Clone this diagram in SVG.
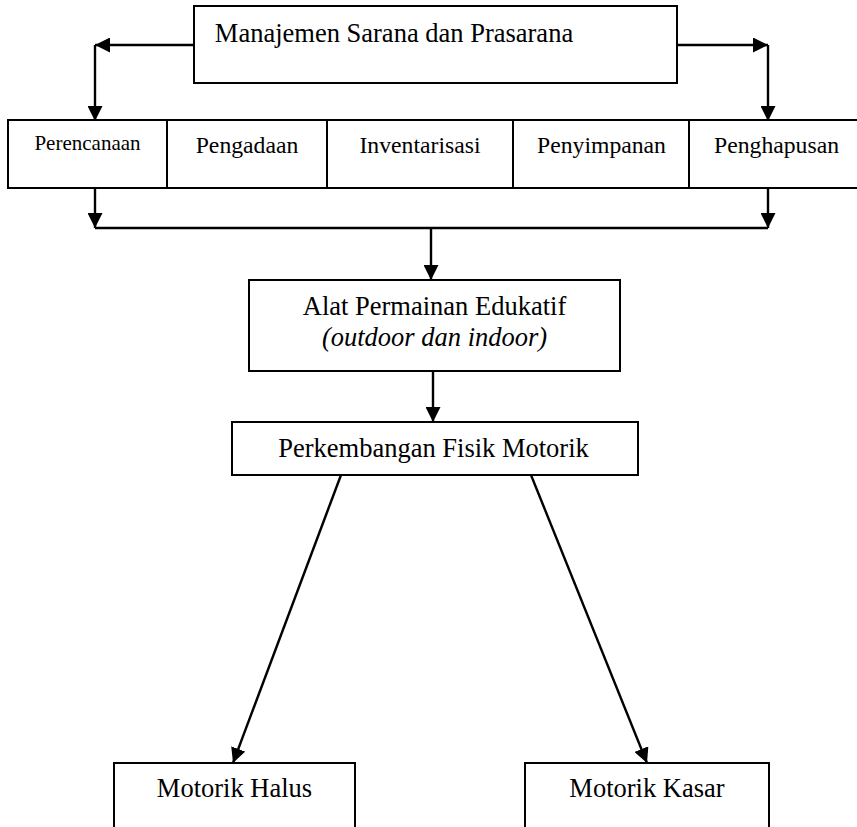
<svg xmlns="http://www.w3.org/2000/svg" width="857" height="827" viewBox="0 0 857 827">
<style>
.box{fill:#fff;stroke:#000;stroke-width:2}
.ln{fill:none;stroke:#000;stroke-width:2.4}
.arr{fill:none;stroke:#000;stroke-width:2.4;marker-end:url(#ah)}
text{font-family:"Liberation Serif","Times New Roman",serif;fill:#000;text-anchor:middle}
.t26{font-size:26.5px}
.t24{font-size:23.7px}
.t21{font-size:21px}
.it{font-style:italic}
</style>
<defs>
<marker id="ah" markerUnits="userSpaceOnUse" markerWidth="15" markerHeight="15" refX="15" refY="7.5" orient="auto">
<path d="M0,0 L15,7.5 L0,15 Z" fill="#000"/>
</marker>
</defs>
<rect width="857" height="827" fill="#fff"/>
<g id="connectors">
<line class="arr" x1="194" y1="45" x2="95" y2="45"/>
<line class="arr" x1="95" y1="45" x2="95" y2="121"/>
<line class="arr" x1="677" y1="45" x2="768" y2="45"/>
<line class="arr" x1="768" y1="45" x2="768" y2="121"/>
<line class="arr" x1="95" y1="178" x2="95" y2="228"/>
<line class="arr" x1="768" y1="178" x2="768" y2="228"/>
<line class="ln" x1="95" y1="228" x2="768" y2="228"/>
<line class="arr" x1="431" y1="228" x2="431" y2="280"/>
<line class="arr" x1="433" y1="371" x2="433" y2="422"/>
<line class="arr" x1="341" y1="475" x2="233" y2="763"/>
<line class="arr" x1="531" y1="475" x2="647" y2="763"/>
</g>
<g id="manajemen">
<rect class="box" x="194" y="6" width="483" height="77"/>
<text class="t26" x="394" y="42">Manajemen Sarana dan Prasarana</text>
</g>
<g id="row">
<rect class="box" x="8" y="120" width="860" height="68"/>
<line class="box" x1="167" y1="120" x2="167" y2="188"/>
<line class="box" x1="327" y1="120" x2="327" y2="188"/>
<line class="box" x1="513" y1="120" x2="513" y2="188"/>
<line class="box" x1="689" y1="120" x2="689" y2="188"/>
</g>
<g id="perencanaan"><text class="t21" x="87.5" y="150">Perencanaan</text></g>
<g id="pengadaan"><text class="t24" x="247" y="153">Pengadaan</text></g>
<g id="inventarisasi"><text class="t24" x="420" y="153">Inventarisasi</text></g>
<g id="penyimpanan"><text class="t24" x="601.5" y="153">Penyimpanan</text></g>
<g id="penghapusan"><text class="t24" x="776.5" y="153">Penghapusan</text></g>
<g id="ape">
<rect class="box" x="249" y="280" width="371" height="91"/>
<text class="t26" x="434.5" y="315">Alat Permainan Edukatif</text>
<text class="t26 it" x="434.5" y="346">(outdoor dan indoor)</text>
</g>
<g id="fisik">
<rect class="box" x="232" y="422" width="406" height="53"/>
<text class="t26" x="433.5" y="457">Perkembangan Fisik Motorik</text>
</g>
<g id="halus">
<rect class="box" x="114" y="763" width="241" height="80"/>
<text class="t26" x="234.5" y="797">Motorik Halus</text>
</g>
<g id="kasar">
<rect class="box" x="525" y="763" width="244" height="80"/>
<text class="t26" x="647" y="797">Motorik Kasar</text>
</g>
</svg>
